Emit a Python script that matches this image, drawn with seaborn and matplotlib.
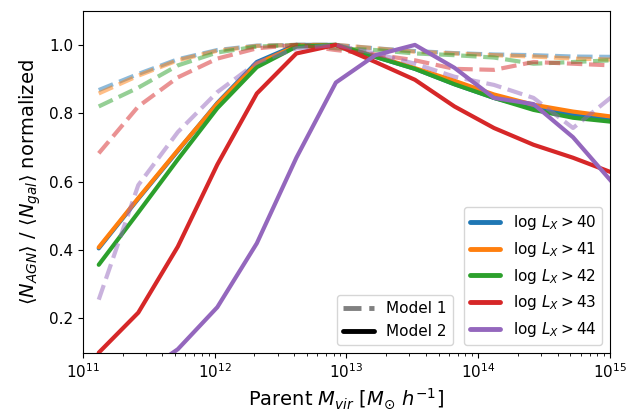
import numpy as np
import pandas as pd
import matplotlib
matplotlib.use('Agg')
import matplotlib.pyplot as plt
import seaborn as sns
from matplotlib.lines import Line2D
from matplotlib.ticker import LogLocator, NullFormatter

# ── Data ───────────────────────────────────────────────
log_mass = [11.12, 11.42, 11.72, 12.02, 12.32, 12.62, 12.92,
            13.22, 13.52, 13.82, 14.12, 14.42, 14.72, 15.02]
thresholds = [40, 41, 42, 43, 44]

# Model 1 (dashed, faded)
model1_40 = [0.868, 0.915, 0.958, 0.985, 0.998, 1.0, 1.0,
             0.99, 0.982, 0.976, 0.972, 0.97, 0.966, 0.965]
model1_41 = [0.858, 0.91, 0.955, 0.983, 0.997, 1.0, 1.0,
             0.99, 0.98, 0.975, 0.97, 0.966, 0.96, 0.957]
model1_42 = [0.82, 0.875, 0.94, 0.978, 0.995, 1.0, 0.99,
             0.985, 0.975, 0.97, 0.963, 0.945, 0.95, 0.955]
model1_43 = [0.683, 0.82, 0.905, 0.96, 0.99, 1.0, 0.985,
             0.972, 0.955, 0.93, 0.927, 0.95, 0.945, 0.94]
model1_44 = [0.255, 0.59, 0.745, 0.862, 0.948, 0.99, 1.0,
             0.975, 0.945, 0.907, 0.883, 0.845, 0.757, 0.85]

# Model 2 (solid)
model2_40 = [0.405, 0.55, 0.69, 0.83, 0.95, 1.0, 1.0,
             0.965, 0.93, 0.885, 0.845, 0.815, 0.795, 0.78]
model2_41 = [0.408, 0.552, 0.692, 0.828, 0.945, 0.997, 1.0,
             0.967, 0.932, 0.895, 0.855, 0.825, 0.805, 0.79]
model2_42 = [0.357, 0.51, 0.665, 0.815, 0.935, 0.995, 1.0,
             0.965, 0.93, 0.885, 0.845, 0.81, 0.787, 0.775]
model2_43 = [0.10, 0.217, 0.41, 0.65, 0.858, 0.975, 1.0,
             0.95, 0.898, 0.82, 0.757, 0.708, 0.67, 0.626]
model2_44 = [0.0, 0.03, 0.11, 0.233, 0.42, 0.67, 0.89,
             0.97, 1.0, 0.933, 0.845, 0.827, 0.73, 0.597]
# ───────────────────────────────────────────────────────

model1 = [model1_40, model1_41, model1_42, model1_43, model1_44]
model2 = [model2_40, model2_41, model2_42, model2_43, model2_44]
mass = [10 ** m for m in log_mass]

sns.set_style('ticks', rc={
    'axes.edgecolor': 'black', 'text.color': 'black',
    'axes.labelcolor': 'black', 'xtick.color': 'black', 'ytick.color': 'black',
    'xtick.major.size': 3.5, 'ytick.major.size': 3.5,
    'xtick.minor.size': 2.0, 'xtick.major.width': 0.8, 'ytick.major.width': 0.8,
    'xtick.minor.width': 0.6, 'axes.linewidth': 0.8,
})
plt.rcParams['font.family'] = ['DejaVu Sans']
colors = sns.color_palette('tab10', 5)

fig, ax = plt.subplots(figsize=(6.38, 4.12), dpi=100)
fig.subplots_adjust(left=0.13, right=0.956, bottom=0.144, top=0.974)

for thr, c, m1, m2 in zip(thresholds, colors, model1, model2):
    sns.lineplot(x=mass, y=m1, color=c, lw=3, ls='--', alpha=0.5, ax=ax)
    sns.lineplot(x=mass, y=m2, color=c, lw=3, ls='-', ax=ax)

ax.set_xscale('log')
ax.set_xlim(1e11, 1e15)
ax.set_ylim(0.1, 1.1)
ax.set_yticks([0.2, 0.4, 0.6, 0.8, 1.0])
ax.xaxis.set_minor_locator(LogLocator(base=10, subs=np.arange(2, 10)))
ax.xaxis.set_minor_formatter(NullFormatter())
ax.tick_params(labelsize=11)
for s in ax.spines.values():
    s.set_visible(True)

ax.set_xlabel(r'Parent $M_{vir}$ [$M_{\odot}$ $h^{-1}$]', fontsize=14)
ax.set_ylabel(r'$\langle N_{AGN}\rangle$ / $\langle N_{gal}\rangle$ normalized', fontsize=14)

lx_handles = [Line2D([], [], color=c, lw=3.5) for c in colors]
lx_labels = [rf'log $L_X > {t}$' for t in thresholds]
leg1 = ax.legend(lx_handles, lx_labels, loc='lower right', fontsize=11,
                 handlelength=2.0)
ax.add_artist(leg1)

model_handles = [Line2D([], [], color='gray', lw=3.5, ls='--'),
                 Line2D([], [], color='black', lw=3.5, ls='-')]
ax.legend(model_handles, ['Model 1', 'Model 2'], loc='lower right',
          bbox_to_anchor=(0.716, 0.0), fontsize=11, handlelength=2.0)

fig.savefig('out.png', dpi=100)
